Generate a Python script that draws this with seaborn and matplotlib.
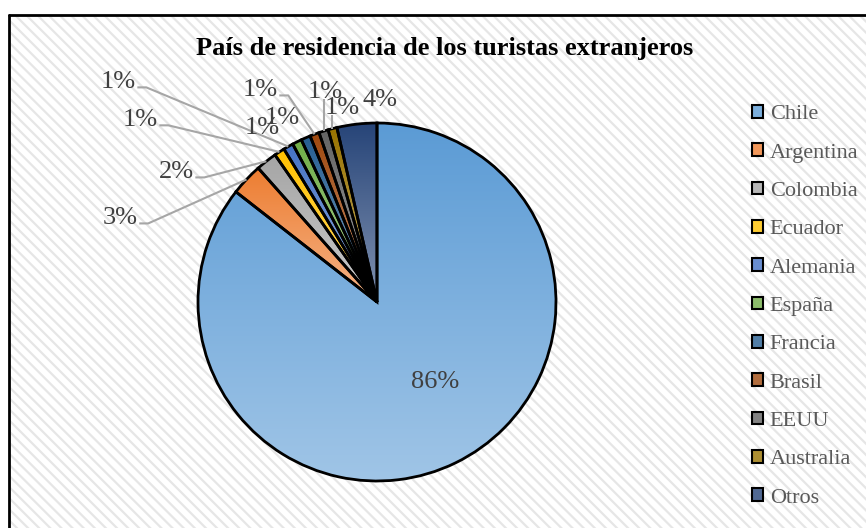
import numpy as np
import matplotlib
matplotlib.use("Agg")
import matplotlib.pyplot as plt
import matplotlib.colors as mcolors
from matplotlib.patches import Rectangle
from matplotlib.lines import Line2D
import seaborn as sns

# data
countries = ["Chile", "Argentina", "Colombia", "Ecuador", "Alemania", "España",
             "Francia", "Brasil", "EEUU", "Australia", "Otros"]
shares = [85.55, 2.9, 1.9, 0.95, 0.9, 0.85, 0.85, 0.85, 0.85, 0.8, 3.6]
colors = ["#5B9BD5", "#ED7D31", "#A5A5A5", "#FFC000", "#4472C4", "#70AD47",
          "#255E91", "#9E480E", "#636363", "#997300", "#264478"]
title = "País de residencia de los turistas extranjeros"

# where the data labels sit (pie radius = 1, centre at 0,0) and how they are tied to the slice
label_xy = [(0.324, -0.447), (-1.436, 0.469), (-1.123, 0.726), (-1.324, 1.017),
            (-1.447, 1.229), (-0.642, 0.972), (-0.531, 1.028), (-0.654, 1.184),
            (-0.291, 1.173), (-0.196, 1.084), (0.017, 1.128)]
leader = [None, "side", "side", "side", "side", None, None, "side", "below", "below", None]

sns.set_theme(style="white")
plt.rcParams["font.family"] = ["Liberation Serif", "DejaVu Serif"]
plt.rcParams["hatch.linewidth"] = 1.6

W, H = 866, 528
fig = plt.figure(figsize=(W / 100, H / 100), dpi=100)

# hatched chart area with the black frame on top/left
bg = Rectangle((9 / W, -0.01), 1.0, 1 - 15 / H + 0.01, transform=fig.transFigure,
               facecolor="white", edgecolor="#E6E6E6", hatch="\\\\\\", lw=0, zorder=-2)
fig.patches.append(bg)
fig.lines.append(Line2D([9 / W, 9 / W], [0, 1 - 15 / H], transform=fig.transFigure,
                        color="black", lw=2, zorder=5))
fig.lines.append(Line2D([9 / W, 1], [1 - 15 / H, 1 - 15 / H], transform=fig.transFigure,
                        color="black", lw=2, zorder=5))

ax = fig.add_axes([0, 0, 1, 1])
ax.patch.set_visible(False)

unit = 179.0
cx, cy = 377.0, 302.0

wedges, _ = ax.pie(shares, colors=colors, startangle=90, counterclock=False,
                   radius=1.0, center=(0, 0),
                   wedgeprops=dict(edgecolor="black", linewidth=2))


def gradient(c):
    top = np.array(mcolors.to_rgb(c))
    bot = top + (1 - top) * 0.42
    t = np.linspace(0, 1, 256)[:, None]
    return (top * (1 - t) + bot * t)[:, None, :]


# Excel style top-to-bottom gradient in every slice
for w, c in zip(wedges, colors):
    bb = w.get_path().get_extents()
    im = ax.imshow(gradient(c), extent=[bb.x0, bb.x1, bb.y0, bb.y1], origin="upper",
                   aspect="auto", interpolation="bilinear", zorder=0.5)
    im.set_clip_path(w)
    w.set_facecolor("none")
    w.set_zorder(1)

ax.set_xlim(-cx / unit, (W - cx) / unit)
ax.set_ylim(-(H - cy) / unit, cy / unit)
ax.axis("off")

texts = []
for v, (x, y) in zip(shares, label_xy):
    texts.append(ax.text(x, y, f"{v:.0f}%", ha="center", va="center",
                         fontsize=19, color="#404040", zorder=4))

fig.canvas.draw()
renderer = fig.canvas.get_renderer()
inv = ax.transData.inverted()
for w, t, kind in zip(wedges, texts, leader):
    if kind is None:
        continue
    mid = np.deg2rad((w.theta1 + w.theta2) / 2)
    wx, wy = np.cos(mid), np.sin(mid)
    bb = t.get_window_extent(renderer).transformed(inv)
    if kind == "side":
        ym = (bb.y0 + bb.y1) / 2 - 0.03
        xs = [bb.x1 + 0.01, bb.x1 + 0.06, wx]
        ys = [ym, ym, wy]
    else:
        xs = [wx, wx]
        ys = [bb.y0 + 0.02, wy]
    ax.plot(xs, ys, color="#A6A6A6", lw=1.5, zorder=3, solid_capstyle="butt")

fig.text(445 / W, 1 - 48 / H, title, ha="center", va="center",
         fontsize=19, fontweight="bold", color="black")

handles = [Rectangle((0, 0), 1, 1, facecolor=mcolors.to_rgb(c) + (1 - np.array(mcolors.to_rgb(c))) * 0.2,
                     edgecolor="black", lw=1.5) for c in colors]
leg = fig.legend(handles, countries, loc="upper left", bbox_to_anchor=(752 / W, 1 - 105 / H),
                 frameon=False, fontsize=16, handlelength=0.5, handleheight=0.5,
                 handletextpad=0.3, labelspacing=0.86, borderpad=0, borderaxespad=0)
for txt in leg.get_texts():
    txt.set_color("#595959")

fig.savefig("out.png", dpi=100)
